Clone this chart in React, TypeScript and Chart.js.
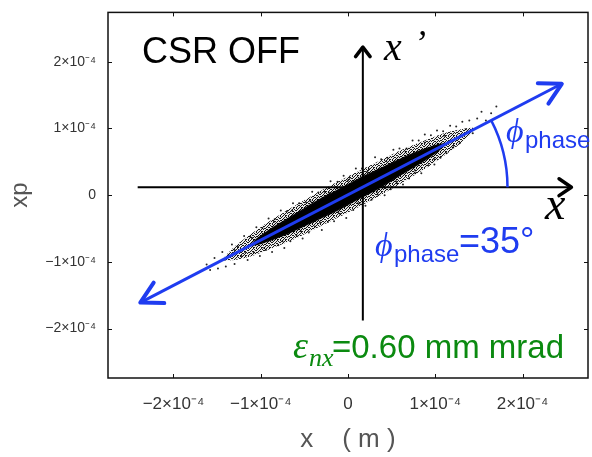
import React, { useEffect, useRef } from "react";
import { Chart, registerables } from "chart.js";

Chart.register(...registerables);

// ---- axes ----
const X_MIN = -2.75e-4;
const X_MAX = 2.75e-4;
const Y_MIN = -2.74e-4;
const Y_MAX = 2.74e-4;
const xTickValues = [-2e-4, -1e-4, 0, 1e-4, 2e-4];
const xTickLabels = ["\u22122\u00d710\u207b\u2074", "\u22121\u00d710\u207b\u2074", "0", "1\u00d710\u207b\u2074", "2\u00d710\u207b\u2074"];
const yTickValues = [-2e-4, -1e-4, 0, 1e-4, 2e-4];
const yTickLabels = ["\u22122\u00d710\u207b\u2074", "\u22121\u00d710\u207b\u2074", "0", "1\u00d710\u207b\u2074", "2\u00d710\u207b\u2074"];
const xTitle = "x    ( m )";
const yTitle = "xp";

// ---- beam: dense core outline (x [m], xp [rad]) ----
const coreOutline: [number, number][] = [
  [-1.12e-4, -0.75e-4],
  [-1.05e-4, -0.65e-4],
  [-0.9e-4, -0.51e-4],
  [-0.7e-4, -0.35e-4],
  [-0.5e-4, -0.19e-4],
  [-0.3e-4, -0.035e-4],
  [-0.1e-4, 0.1e-4],
  [0.1e-4, 0.24e-4],
  [0.3e-4, 0.365e-4],
  [0.5e-4, 0.49e-4],
  [0.7e-4, 0.61e-4],
  [0.9e-4, 0.71e-4],
  [1.05e-4, 0.77e-4],
  [1.12e-4, 0.77e-4],
  [1.05e-4, 0.67e-4],
  [0.9e-4, 0.53e-4],
  [0.7e-4, 0.37e-4],
  [0.5e-4, 0.21e-4],
  [0.3e-4, 0.055e-4],
  [0.1e-4, -0.08e-4],
  [-0.1e-4, -0.22e-4],
  [-0.3e-4, -0.345e-4],
  [-0.5e-4, -0.47e-4],
  [-0.7e-4, -0.59e-4],
  [-0.9e-4, -0.69e-4],
  [-1.05e-4, -0.75e-4],
  [-1.12e-4, -0.75e-4],
];

// ---- beam: outer (sparser) region outline ----
const outerOutline: [number, number][] = [
  [-1.45e-4, -0.98e-4],
  [-1.3e-4, -0.77e-4],
  [-1.1e-4, -0.57e-4],
  [-0.9e-4, -0.39e-4],
  [-0.6e-4, -0.15e-4],
  [-0.3e-4, 0.075e-4],
  [0.0, 0.28e-4],
  [0.3e-4, 0.475e-4],
  [0.6e-4, 0.67e-4],
  [0.9e-4, 0.83e-4],
  [1.1e-4, 0.93e-4],
  [1.3e-4, 0.99e-4],
  [1.45e-4, 1.0e-4],
  [1.3e-4, 0.79e-4],
  [1.1e-4, 0.59e-4],
  [0.9e-4, 0.41e-4],
  [0.6e-4, 0.17e-4],
  [0.3e-4, -0.055e-4],
  [0.0, -0.26e-4],
  [-0.3e-4, -0.455e-4],
  [-0.6e-4, -0.65e-4],
  [-0.9e-4, -0.81e-4],
  [-1.1e-4, -0.91e-4],
  [-1.3e-4, -0.97e-4],
  [-1.45e-4, -0.98e-4],
];

// ---- beam: individual halo particles (x [m], xp [rad]) ----
const haloParticles: [number, number][] = [
  [-1.62e-4, -1.04e-4], [-1.58e-4, -1.12e-4], [-1.53e-4, -0.94e-4], [-1.49e-4, -1.10e-4],
  [-1.44e-4, -0.85e-4], [-1.40e-4, -1.07e-4], [-1.37e-4, -0.90e-4], [-1.33e-4, -0.74e-4],
  [-1.30e-4, -1.03e-4], [-1.26e-4, -0.77e-4], [-1.22e-4, -0.91e-4], [-1.19e-4, -0.61e-4],
  [-1.15e-4, -0.97e-4], [-1.12e-4, -0.62e-4], [-1.08e-4, -0.86e-4], [-1.05e-4, -0.48e-4],
  [-1.01e-4, -0.91e-4], [-0.98e-4, -0.49e-4], [-0.94e-4, -0.82e-4], [-0.91e-4, -0.35e-4],
  [-0.87e-4, -0.85e-4], [-0.84e-4, -0.36e-4], [-0.80e-4, -0.75e-4], [-0.77e-4, -0.23e-4],
  [-0.73e-4, -0.79e-4], [-0.70e-4, -0.24e-4], [-0.66e-4, -0.69e-4], [-0.63e-4, -0.12e-4],
  [-0.59e-4, -0.60e-4], [-0.56e-4, -0.12e-4], [-0.52e-4, -0.65e-4], [-0.48e-4, -0.11e-4],
  [-0.45e-4, -0.56e-4], [-0.41e-4, 0.05e-4], [-0.38e-4, -0.47e-4], [-0.34e-4, 0.04e-4],
  [-0.30e-4, -0.52e-4], [-0.27e-4, 0.05e-4], [-0.23e-4, -0.40e-4], [-0.20e-4, 0.21e-4],
  [-0.16e-4, -0.39e-4], [-0.12e-4, 0.20e-4], [-0.09e-4, -0.28e-4], [-0.05e-4, 0.29e-4],
  [-0.02e-4, -0.34e-4], [0.02e-4, 0.26e-4], [0.06e-4, -0.22e-4], [0.09e-4, 0.40e-4],
  [0.13e-4, -0.12e-4], [0.16e-4, 0.40e-4], [0.20e-4, -0.16e-4], [0.24e-4, 0.39e-4],
  [0.27e-4, -0.07e-4], [0.31e-4, 0.57e-4], [0.34e-4, 0.01e-4], [0.38e-4, 0.54e-4],
  [0.42e-4, 0.00e-4], [0.45e-4, 0.56e-4], [0.49e-4, 0.09e-4], [0.52e-4, 0.68e-4],
  [0.56e-4, 0.18e-4], [0.59e-4, 0.70e-4], [0.63e-4, 0.16e-4], [0.67e-4, 0.70e-4],
  [0.70e-4, 0.25e-4], [0.74e-4, 0.82e-4], [0.77e-4, 0.33e-4], [0.81e-4, 0.82e-4],
  [0.84e-4, 0.33e-4], [0.88e-4, 0.91e-4], [0.92e-4, 0.45e-4], [0.95e-4, 0.90e-4],
  [0.99e-4, 0.46e-4], [1.02e-4, 0.97e-4], [1.06e-4, 0.56e-4], [1.09e-4, 0.96e-4],
  [1.13e-4, 0.63e-4], [1.17e-4, 1.04e-4], [1.20e-4, 0.71e-4], [1.24e-4, 1.03e-4],
  [1.28e-4, 0.78e-4], [1.31e-4, 1.10e-4], [1.35e-4, 0.99e-4], [1.39e-4, 1.12e-4],
  [1.43e-4, 0.93e-4], [1.48e-4, 1.15e-4], [1.53e-4, 1.25e-4], [1.58e-4, 1.12e-4],
  [1.64e-4, 1.23e-4], [1.70e-4, 1.33e-4],
  [-1.30e-4, -0.82e-4], [-1.18e-4, -0.85e-4], [-1.10e-4, -0.64e-4], [-0.96e-4, -0.79e-4],
  [-0.85e-4, -0.40e-4], [-0.75e-4, -0.69e-4], [-0.64e-4, -0.23e-4], [-0.54e-4, -0.54e-4],
  [-0.43e-4, -0.09e-4], [-0.32e-4, -0.41e-4], [-0.22e-4, 0.04e-4], [-0.11e-4, -0.25e-4],
  [0.00e-4, 0.22e-4], [0.11e-4, -0.12e-4], [0.22e-4, 0.35e-4], [0.33e-4, 0.05e-4],
  [0.44e-4, 0.51e-4], [0.55e-4, 0.21e-4], [0.66e-4, 0.65e-4], [0.77e-4, 0.37e-4],
  [0.88e-4, 0.79e-4], [0.99e-4, 0.54e-4], [1.10e-4, 0.89e-4], [1.21e-4, 0.74e-4],
];

// ---- drawn phase-space axes and phase-ellipse direction ----
const axisXLineX = [-2.41e-4, 2.56e-4];
const axisXLineY = [0.12e-4, 0.12e-4];
const axisXpLineX = [0.17e-4, 0.17e-4];
const axisXpLineY = [-1.88e-4, 2.22e-4];
const phaseLineX = [-2.38e-4, 2.45e-4];
const phaseLineY = [-1.61e-4, 1.67e-4];
const phaseArcRadius = 1.66e-4; // in x units

const BLUE = "#1f3cf0";
const GREEN = "#0b8a10";

// stipple texture used to render the sparser part of the particle cloud
const STIPPLE = [
  "10100100",
  "01001010",
  "10010001",
  "00101100",
  "11000010",
  "00110101",
  "01001000",
  "10010110",
];

function makeStipple(): CanvasPattern | string {
  const c = document.createElement("canvas");
  c.width = 8;
  c.height = 8;
  const g = c.getContext("2d");
  if (!g) return "rgba(0,0,0,0.4)";
  STIPPLE.forEach((row, j) => {
    row.split("").forEach((ch, i) => {
      if (ch === "1") {
        g.fillStyle = "rgba(0,0,0,0.9)";
        g.fillRect(i, j, 1, 1);
      } else {
        g.fillStyle = "rgba(90,90,90,0.12)";
        g.fillRect(i, j, 1, 1);
      }
    });
  });
  return g.createPattern(c, "repeat") || "rgba(0,0,0,0.4)";
}

function pairs(xs: number[], ys: number[]) {
  return xs.map((v, i) => ({ x: v, y: ys[i] }));
}

function chevron(ctx: CanvasRenderingContext2D, tx: number, ty: number, ang: number, len: number, spread: number, color: string, w: number) {
  ctx.save();
  ctx.strokeStyle = color;
  ctx.lineWidth = w;
  ctx.lineCap = "round";
  ctx.lineJoin = "round";
  ctx.beginPath();
  ctx.moveTo(tx - len * Math.cos(ang - spread), ty - len * Math.sin(ang - spread));
  ctx.lineTo(tx, ty);
  ctx.lineTo(tx - len * Math.cos(ang + spread), ty - len * Math.sin(ang + spread));
  ctx.stroke();
  ctx.restore();
}

const annotatePlugin = {
  id: "annotate",
  afterDatasetsDraw(chart: any) {
    const { ctx, chartArea: a, scales } = chart;
    const xs = scales.x;
    const ys = scales.y;
    const px = (v: number) => xs.getPixelForValue(v);
    const py = (v: number) => ys.getPixelForValue(v);

    // frame with inward ticks
    ctx.save();
    ctx.strokeStyle = "#111";
    ctx.lineWidth = 1.5;
    ctx.strokeRect(a.left, a.top, a.right - a.left, a.bottom - a.top);
    ctx.lineWidth = 1;
    ctx.beginPath();
    xTickValues.forEach((v) => {
      const p = Math.round(px(v)) + 0.5;
      ctx.moveTo(p, a.bottom);
      ctx.lineTo(p, a.bottom - 4);
      ctx.moveTo(p, a.top);
      ctx.lineTo(p, a.top + 4);
    });
    yTickValues.forEach((v) => {
      const p = Math.round(py(v)) + 0.5;
      ctx.moveTo(a.left, p);
      ctx.lineTo(a.left + 4, p);
      ctx.moveTo(a.right, p);
      ctx.lineTo(a.right - 4, p);
    });
    ctx.stroke();
    ctx.restore();

    // arrowheads on the black axes
    chevron(ctx, px(axisXLineX[1]), py(axisXLineY[1]), 0, 15, 0.6, "#000", 3.5);
    chevron(ctx, px(axisXpLineX[1]), py(axisXpLineY[1]), -Math.PI / 2, 12, 0.65, "#000", 3.5);

    // blue phase arrow heads
    const bx0 = px(phaseLineX[0]);
    const by0 = py(phaseLineY[0]);
    const bx1 = px(phaseLineX[1]);
    const by1 = py(phaseLineY[1]);
    const ang = Math.atan2(by1 - by0, bx1 - bx0);
    chevron(ctx, bx1, by1, ang, 24, 0.5, BLUE, 4);
    chevron(ctx, bx0, by0, ang + Math.PI, 24, 0.5, BLUE, 4);

    // phase angle arc
    const h = py(axisXLineY[0]);
    const t = (h - by0) / (by1 - by0);
    const cx = bx0 + t * (bx1 - bx0);
    const r = px(phaseArcRadius) - px(0);
    ctx.save();
    ctx.strokeStyle = BLUE;
    ctx.lineWidth = 2.5;
    ctx.beginPath();
    ctx.arc(cx, h, r, ang, 0);
    ctx.stroke();
    ctx.restore();

    // texts
    ctx.save();
    ctx.textBaseline = "alphabetic";
    ctx.textAlign = "left";
    ctx.fillStyle = "#000";
    ctx.font = "36px 'Liberation Sans', Arial, sans-serif";
    ctx.fillText("CSR OFF", 142, 63);

    ctx.font = "italic 40px 'Liberation Serif', 'Times New Roman', serif";
    ctx.fillText("x", 384, 60);
    ctx.font = "italic 36px 'Liberation Serif', 'Times New Roman', serif";
    ctx.fillText("\u2019", 414, 55);
    ctx.font = "italic 46px 'Liberation Serif', 'Times New Roman', serif";
    ctx.fillText("x", 545, 219);

    ctx.fillStyle = BLUE;
    ctx.font = "italic 34px 'Liberation Serif', 'Times New Roman', serif";
    ctx.fillText("\u03d5", 506, 142);
    ctx.font = "24px 'Liberation Sans', Arial, sans-serif";
    ctx.fillText("phase", 525, 148);

    ctx.font = "italic 34px 'Liberation Serif', 'Times New Roman', serif";
    ctx.fillText("\u03d5", 375, 256);
    ctx.font = "24px 'Liberation Sans', Arial, sans-serif";
    ctx.fillText("phase", 394, 262);
    ctx.font = "36px 'Liberation Sans', Arial, sans-serif";
    ctx.fillText("=35\u00b0", 459, 253);

    ctx.fillStyle = GREEN;
    ctx.font = "italic 38px 'Liberation Serif', 'Times New Roman', serif";
    ctx.fillText("\u03b5", 293, 358);
    ctx.font = "italic 26px 'Liberation Serif', 'Times New Roman', serif";
    ctx.fillText("nx", 309, 366);
    ctx.font = "33px 'Liberation Sans', Arial, sans-serif";
    ctx.fillText("=0.60 mm mrad", 332, 358);
    ctx.restore();
  },
};

export default function App() {
  const ref = useRef<HTMLCanvasElement | null>(null);

  useEffect(() => {
    if (!ref.current) return;
    const stipple = makeStipple();
    const chart = new Chart(ref.current, {
      type: "scatter",
      data: {
        datasets: [
          {
            type: "line",
            label: "phase direction",
            data: pairs(phaseLineX, phaseLineY),
            borderColor: BLUE,
            borderWidth: 3,
            pointRadius: 0,
            fill: false,
          } as any,
          {
            type: "line",
            label: "x axis",
            data: pairs(axisXLineX, axisXLineY),
            borderColor: "#000",
            borderWidth: 2,
            pointRadius: 0,
            fill: false,
          } as any,
          {
            type: "line",
            label: "xp axis",
            data: pairs(axisXpLineX, axisXpLineY),
            borderColor: "#000",
            borderWidth: 2,
            pointRadius: 0,
            fill: false,
          } as any,
          {
            type: "scatter",
            label: "halo",
            data: haloParticles.map(([x, y]) => ({ x, y })),
            backgroundColor: "rgba(0,0,0,0.85)",
            borderWidth: 0,
            pointRadius: 1,
          } as any,
          {
            type: "line",
            label: "core",
            data: coreOutline.map(([x, y]) => ({ x, y })),
            borderColor: stipple,
            backgroundColor: "#000",
            borderWidth: 3,
            pointRadius: 0,
            tension: 0.3,
            fill: "shape",
          } as any,
          {
            type: "line",
            label: "outer",
            data: outerOutline.map(([x, y]) => ({ x, y })),
            borderColor: "rgba(0,0,0,0)",
            backgroundColor: stipple,
            borderWidth: 0,
            pointRadius: 0,
            tension: 0.3,
            fill: "shape",
          } as any,
        ],
      },
      options: {
        animation: false,
        responsive: true,
        maintainAspectRatio: false,
        layout: { padding: { top: 8, right: 2, left: 0, bottom: 0 } },
        plugins: { legend: { display: false }, tooltip: { enabled: false } },
        scales: {
          x: {
            type: "linear",
            min: X_MIN,
            max: X_MAX,
            grid: { display: false },
            border: { display: false },
            afterBuildTicks: (s: any) => {
              s.ticks = xTickValues.map((v) => ({ value: v }));
            },
            afterFit: (s: any) => {
              s.height = 79;
            },
            ticks: {
              autoSkip: false,
              maxRotation: 0,
              padding: 8,
              color: "#333",
              font: { family: "'Liberation Sans', Arial, sans-serif", size: 17 },
              callback: (_v: any, i: number) => xTickLabels[i],
            },
            title: {
              display: true,
              text: xTitle,
              color: "#555",
              font: { family: "'Liberation Sans', Arial, sans-serif", size: 26 },
              padding: { top: 0, bottom: 2 },
            },
          },
          y: {
            type: "linear",
            min: Y_MIN,
            max: Y_MAX,
            grid: { display: false },
            border: { display: false },
            afterBuildTicks: (s: any) => {
              s.ticks = yTickValues.map((v) => ({ value: v }));
            },
            afterFit: (s: any) => {
              s.width = 108;
            },
            ticks: {
              autoSkip: false,
              padding: 4,
              color: "#333",
              font: { family: "'Liberation Sans', Arial, sans-serif", size: 14 },
              callback: (_v: any, i: number) => yTickLabels[i],
            },
            title: {
              display: true,
              text: yTitle,
              color: "#555",
              font: { family: "'Liberation Sans', Arial, sans-serif", size: 24 },
              padding: { top: 6, bottom: 0 },
            },
          },
        },
      },
      plugins: [annotatePlugin],
    });
    return () => chart.destroy();
  }, []);

  return (
    <div style={{ position: "absolute", left: 0, top: 0, width: 592, height: 457, background: "#fff" }}>
      <canvas ref={ref} />
    </div>
  );
}
